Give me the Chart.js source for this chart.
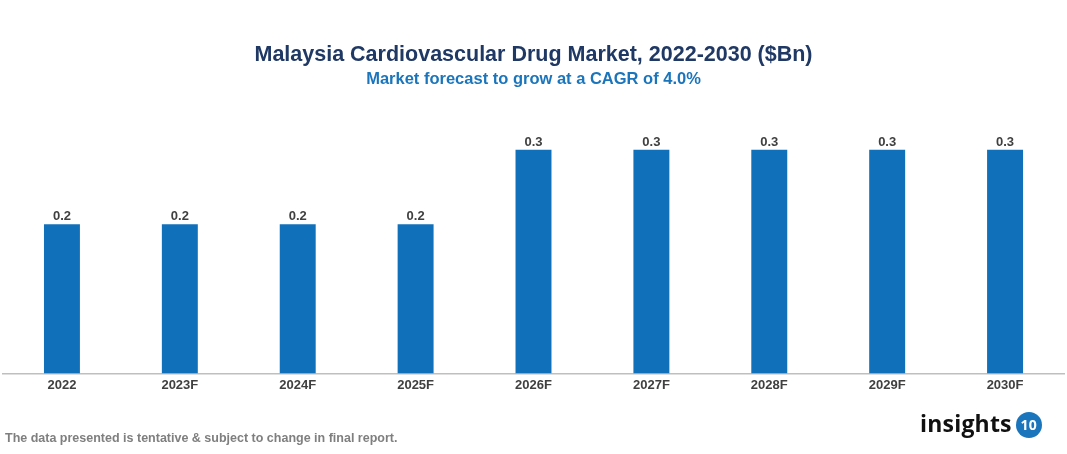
<!DOCTYPE html>
<html lang="en">
<head>
    <meta charset="UTF-8">
    <title>Malaysia Cardiovascular Drug Market</title>
    <script src="https://cdn.jsdelivr.net/npm/chart.js"></script>
    <style>
        body { margin: 0; background: #fff; }
        #wrap { position: relative; width: 1067px; height: 454px; font-family: "Liberation Sans", Arial, sans-serif; }
        #chartBox { position: absolute; left: 0; top: 0; width: 1067px; height: 454px; }
        #note { position: absolute; left: 5px; top: 431px; font-size: 12.5px; font-weight: bold; color: #7f7f7f; }
        #logo { position: absolute; left: 920px; top: 407px; font-family: "Open Sans", sans-serif; font-weight: bold; font-size: 23px; color: #111; letter-spacing: 0.2px; }
        #logo span { display: inline-block; width: 26px; height: 26px; border-radius: 50%; background: #1a75bc; color: #fff; font-size: 14px; text-align: center; line-height: 26px; vertical-align: 2px; margin-left: 4px; }
    </style>
</head>
<body>
<div id="wrap">
    <div id="chartBox"><canvas id="marketChart"></canvas></div>
    <div id="note">The data presented is tentative &amp; subject to change in final report.</div>
    <div id="logo">insights<span>10</span></div>
</div>

<script>
    const years = ['2022', '2023F', '2024F', '2025F', '2026F', '2027F', '2028F', '2029F', '2030F'];
    const marketValues = [0.2, 0.2, 0.2, 0.2, 0.3, 0.3, 0.3, 0.3, 0.3];
    const valueLabels = ['0.2', '0.2', '0.2', '0.2', '0.3', '0.3', '0.3', '0.3', '0.3'];

    // draws the value above each bar
    const barLabels = {
        id: 'barLabels',
        afterDatasetsDraw(chart) {
            const ctx = chart.ctx;
            const meta = chart.getDatasetMeta(0);
            ctx.save();
            ctx.font = 'bold 13px "Liberation Sans", Arial, sans-serif';
            ctx.fillStyle = '#404040';
            ctx.textAlign = 'center';
            ctx.textBaseline = 'bottom';
            meta.data.forEach((bar, i) => {
                ctx.fillText(valueLabels[i], bar.x, bar.y - 1);
            });
            ctx.restore();
        }
    };

    new Chart(document.getElementById('marketChart'), {
        type: 'bar',
        data: {
            labels: years,
            datasets: [{
                data: marketValues,
                backgroundColor: '#1071ba',
                barPercentage: 0.305,
                categoryPercentage: 1.0
            }]
        },
        options: {
            responsive: true,
            maintainAspectRatio: false,
            animation: false,
            layout: { padding: { top: 36, left: 3, right: 3, bottom: 57 } },
            plugins: {
                legend: { display: false },
                tooltip: { enabled: false },
                title: {
                    display: true,
                    text: 'Malaysia Cardiovascular Drug Market, 2022-2030 ($Bn)',
                    color: '#1f3864',
                    font: { family: '"Liberation Sans", Arial, sans-serif', size: 21.5, weight: 'bold' },
                    padding: { top: 6, bottom: 2 }
                },
                subtitle: {
                    display: true,
                    text: 'Market forecast to grow at a CAGR of 4.0%',
                    color: '#1a75bc',
                    font: { family: '"Liberation Sans", Arial, sans-serif', size: 16.5, weight: 'bold' },
                    padding: { top: 0, bottom: 17 }
                }
            },
            scales: {
                x: {
                    grid: { display: false, drawTicks: false },
                    border: { display: true, color: '#bfbfbf', width: 1.5 },
                    ticks: {
                        color: '#404040',
                        font: { family: '"Liberation Sans", Arial, sans-serif', size: 13, weight: 'bold' },
                        padding: 4
                    }
                },
                y: {
                    display: false,
                    min: 0,
                    max: 0.358
                }
            }
        },
        plugins: [barLabels]
    });
</script>
</body>
</html>
